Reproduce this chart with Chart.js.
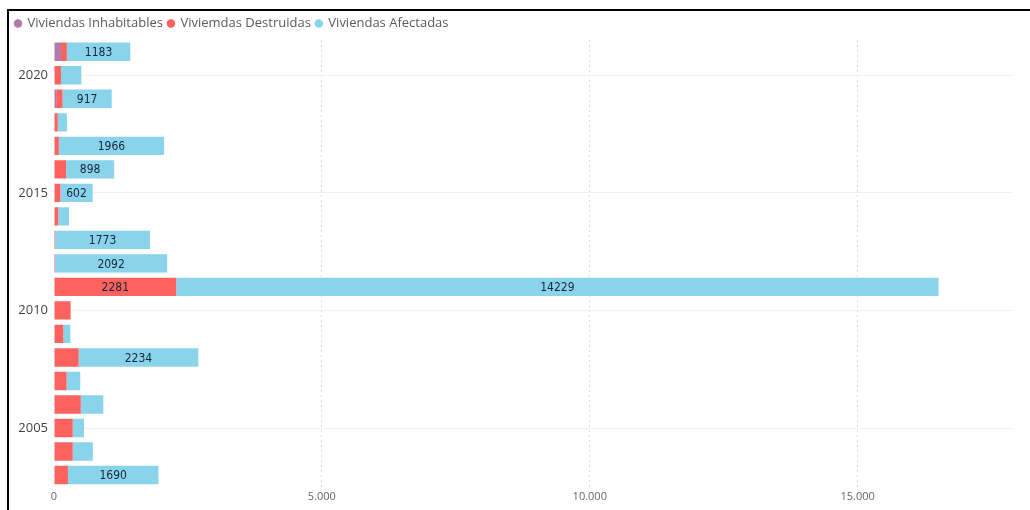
<!DOCTYPE html>
<html>
<head>
<meta charset="utf-8">
<script src="https://cdn.jsdelivr.net/npm/chart.js@4"></script>
<style>
  html, body { margin: 0; padding: 0; background: #fff; }
  #wrap { position: relative; width: 1030px; height: 510px; }
  #frame { position: absolute; left: 7px; top: 9px; right: 0; bottom: 0;
           border-top: 2px solid #000; border-left: 2px solid #000; pointer-events: none; }
</style>
</head>
<body>
<div id="wrap">
  <canvas id="chart" width="1030" height="510"></canvas>
  <div id="frame"></div>
</div>
<script>
const years = [2021, 2020, 2019, 2018, 2017, 2016, 2015, 2014, 2013, 2012,
               2011, 2010, 2009, 2008, 2007, 2006, 2005, 2004, 2003];
const inhabitables = [130, 0, 40, 0, 0, 0, 0, 0, 0, 0,
                      0, 0, 0, 0, 0, 0, 0, 0, 0];
const destruidas = [110, 130, 120, 70, 90, 225, 120, 80, 20, 20,
                    2281, 310, 175, 460, 235, 500, 350, 350, 260];
const afectadas = [1183, 380, 917, 170, 1966, 898, 602, 200, 1773, 2092,
                   14229, 0, 130, 2234, 255, 420, 210, 375, 1690];
const xTicks = [0, 5000, 10000, 15000];
const labelledYears = [2005, 2010, 2015, 2020];

const fmtThousands = (n) => String(n).replace(/\B(?=(\d{3})+(?!\d))/g, '.');

// Power BI style data labels: only drawn when they fit inside the bar
const barLabels = {
  id: 'barLabels',
  afterDatasetsDraw(chart) {
    const ctx = chart.ctx;
    ctx.save();
    ctx.font = '12px "DejaVu Sans Condensed", "DejaVu Sans", sans-serif';
    ctx.fillStyle = '#15263a';
    ctx.textAlign = 'center';
    ctx.textBaseline = 'middle';
    chart.data.datasets.forEach((ds, i) => {
      const meta = chart.getDatasetMeta(i);
      meta.data.forEach((bar, j) => {
        const v = ds.data[j];
        if (!v) return;
        const txt = String(v);
        const w = Math.abs(bar.x - bar.base);
        if (w < ctx.measureText(txt).width + 10) return;
        ctx.fillText(txt, (bar.x + bar.base) / 2, bar.y + 1);
      });
    });
    ctx.restore();
  },
};

new Chart(document.getElementById('chart'), {
  type: 'bar',
  data: {
    labels: years,
    datasets: [
      { label: 'Viviendas Inhabitables', data: inhabitables, backgroundColor: '#b07aae' },
      { label: 'Viviemdas Destruidas', data: destruidas, backgroundColor: '#fd625e' },
      { label: 'Viviendas Afectadas', data: afectadas, backgroundColor: '#8ad4eb' },
    ],
  },
  options: {
    indexAxis: 'y',
    responsive: false,
    animation: false,
    categoryPercentage: 1,
    barPercentage: 0.78,
    layout: { padding: { left: 10, top: 12, right: 17, bottom: 4 } },
    plugins: {
      legend: {
        position: 'top',
        align: 'start',
        labels: {
          usePointStyle: true,
          pointStyle: 'circle',
          boxWidth: 6,
          boxHeight: 6,
          padding: 5,
          color: '#5a5a5a',
          font: { family: '"Open Sans", sans-serif', size: 13 },
        },
      },
      tooltip: { enabled: false },
    },
    scales: {
      x: {
        stacked: true,
        min: 0,
        max: 17900,
        afterBuildTicks: (s) => { s.ticks = xTicks.map((v) => ({ value: v })); },
        ticks: {
          color: '#666',
          font: { family: '"Open Sans", sans-serif', size: 11 },
          callback: (v) => fmtThousands(v),
        },
        grid: {
          color: (c) => (c.tick && c.tick.value === 0 ? 'rgba(0,0,0,0)' : '#dcdcdc'),
          drawTicks: false,
        },
        border: { display: false, dash: [2, 3] },
      },
      y: {
        stacked: true,
        afterFit: (s) => { s.width = 44; },
        ticks: {
          color: '#444',
          autoSkip: false,
          padding: 6,
          font: { family: '"Open Sans", sans-serif', size: 13 },
          callback: function (v) {
            const yr = this.getLabelForValue(v);
            return labelledYears.includes(Number(yr)) ? yr : '';
          },
        },
        grid: {
          offset: false,
          drawTicks: false,
          color: (c) => (c.tick && c.tick.label ? '#f1f1f1' : 'rgba(0,0,0,0)'),
        },
        border: { display: false },
      },
    },
  },
  plugins: [barLabels],
});
</script>
</body>
</html>
